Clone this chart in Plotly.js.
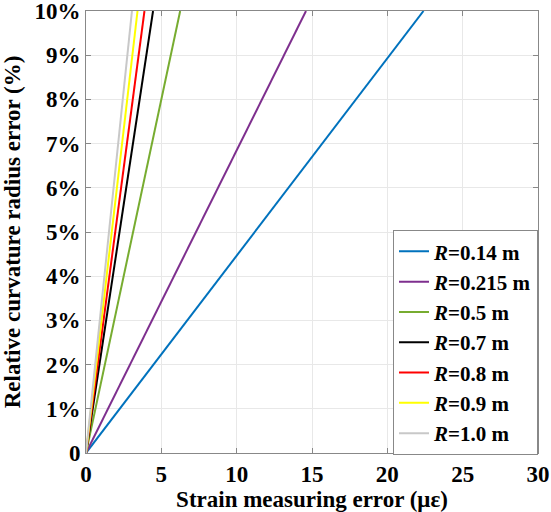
<!DOCTYPE html>
<html><head><meta charset="utf-8"><script src="https://cdn.plot.ly/plotly-3.0.1.min.js"></script>
<style>
#chart text, #chart tspan { font-family: 'Liberation Serif', 'Times New Roman', serif !important; }
</style>
</head>
<body style="margin:0">
<div id="chart" style="width:551px;height:512px"></div>
<script>
// Curvature radii (m)
var radii = ["0.14", "0.215", "0.5", "0.7", "0.8", "0.9", "1.0"];
// Strain measuring error (με) at which relative error reaches 10 %
var strainAt10 = [22.4, 14.6, 6.25, 4.45, 3.88, 3.42, 3.05];
// Relative error endpoints (%)
var errStart = 0;
var errEnd = 10;
var colors = ["#0072BD", "#7E2F8E", "#77AC30", "#000000", "#FF0000", "#FFFF00", "#C8C8C8"];
var yTickVals = [0, 1, 2, 3, 4, 5, 6, 7, 8, 9, 10];
var yTickText = ["0", "1%", "2%", "3%", "4%", "5%", "6%", "7%", "8%", "9%", "10%"];
var xTickVals = [0, 5, 10, 15, 20, 25, 30];

var traces = radii.map(function (r, i) {
  return {
    x: [0, strainAt10[i]],
    y: [errStart, errEnd],
    mode: "lines",
    type: "scatter",
    name: "<i>R</i>=" + r + " m",
    line: { color: colors[i], width: 2 }
  };
});

function F(size) { return { family: "Liberation Serif", size: size, weight: "bold", color: "#000" }; }

var layout = {
  width: 551, height: 512,
  margin: { l: 86, r: 13, t: 11, b: 59 },
  paper_bgcolor: "#fff", plot_bgcolor: "#fff",
  font: F(22),
  showlegend: true,
  legend: {
    x: 1, y: -0.005, xanchor: "right", yanchor: "bottom",
    bgcolor: "#fff", bordercolor: "#888", borderwidth: 1,
    font: F(21),
    tracegroupgap: 0, itemwidth: 30
  },
  xaxis: {
    range: [0, 30], tickvals: xTickVals,
    ticks: "inside", ticklen: 5, tickcolor: "#888",
    showline: true, linecolor: "#888", linewidth: 1, mirror: "ticks",
    showgrid: true, gridcolor: "#e8e8e8", zeroline: false,
    tickfont: F(23),
    title: { text: "Strain measuring error (με)", standoff: 0, font: F(23) }
  },
  yaxis: {
    range: [0, 10], tickvals: yTickVals, ticktext: yTickText,
    ticks: "inside", ticklen: 5, tickcolor: "#888",
    showline: true, linecolor: "#888", linewidth: 1, mirror: "ticks",
    showgrid: true, gridcolor: "#e8e8e8", zeroline: false,
    ticklabeloverflow: "allow",
    tickfont: F(23),
    title: { text: "Relative curvature radius error (%)", standoff: 8, font: F(23) }
  }
};

Plotly.newPlot("chart", traces, layout, { displayModeBar: false, staticPlot: true });
</script>
</body></html>
